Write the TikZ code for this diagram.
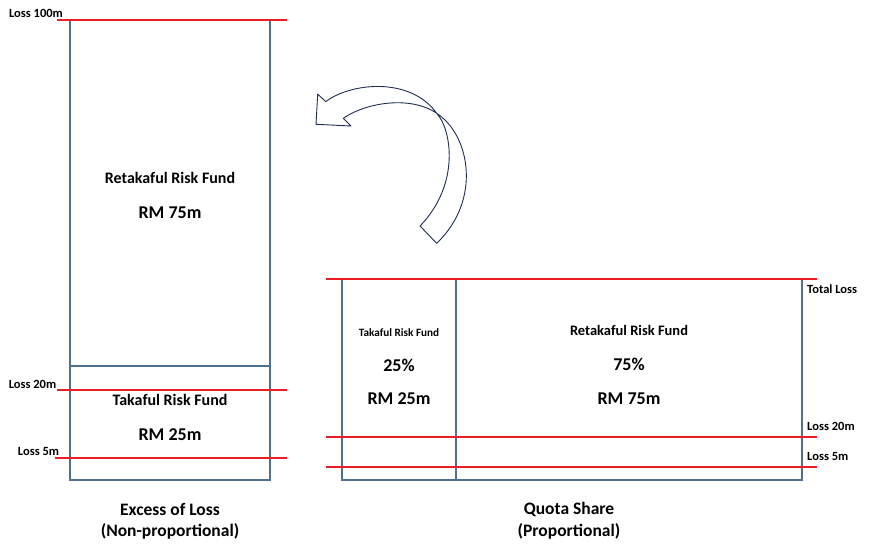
\documentclass[tikz,border=0pt]{standalone}
\usepackage{fontspec}
\setmainfont{Carlito}
\usetikzlibrary{positioning}
\definecolor{boxblue}{RGB}{78,112,146}
\definecolor{lossred}{RGB}{236,28,36}
\definecolor{arrownavy}{RGB}{31,45,82}

\begin{document}
\begin{tikzpicture}[x=1pt,y=-1pt,
    fundbox/.style={draw=boxblue,line width=2pt},
    lossline/.style={draw=lossred,line width=2pt},
    losslabel/.style={font=\fontsize{12.5}{14}\selectfont\bfseries,inner sep=0pt},
    fundname/.style={font=\fontsize{16}{18}\selectfont\bfseries,inner sep=0pt},
    fundsum/.style={font=\fontsize{18}{20}\selectfont\bfseries,inner sep=0pt},
    caption/.style={font=\fontsize{17.5}{20}\selectfont\bfseries,inner sep=0pt}]
    \useasboundingbox (0,0) rectangle (869,548);
    % excess of loss layers
    \draw[fundbox] (70,20) rectangle (270,480);
    \draw[fundbox] (70,366) -- (270,366);
    \draw[lossline] (57,20) -- (287,20);
    \draw[lossline] (57,390) -- (287,390);
    \draw[lossline] (55,458) -- (287,458);
    \node[losslabel] (xl100) at (36,13) {Loss 100m};
    \node[losslabel] (xl20) at (32.5,384) {Loss 20m};
    \node[losslabel] (xl5) at (38.5,451) {Loss 5m};
    \node[fundname] (xlret) at (170,178) {Retakaful Risk Fund};
    \node[fundsum] (xlretsum) at (170,213) {RM 75m};
    \node[fundname] (xltak) at (170,400) {Takaful Risk Fund};
    \node[fundsum] (xltaksum) at (170,435) {RM 25m};
    \node[caption] (xlcap) at (170,509) {Excess of Loss};
    \node[caption] (xlsub) at (170,531) {(Non-proportional)};
    % quota share split
    \draw[fundbox] (342,279) rectangle (802,480);
    \draw[fundbox,line width=2.6pt] (456,279) -- (456,480);
    \draw[lossline] (326,279) -- (817,279);
    \draw[lossline] (326,437) -- (817,437);
    \draw[lossline] (326,467) -- (817,467);
    \node[losslabel,anchor=west] (qstotal) at (807,289) {Total Loss};
    \node[losslabel,anchor=west] (qs20) at (807,426) {Loss 20m};
    \node[losslabel,anchor=west] (qs5) at (807,456) {Loss 5m};
    \node[losslabel,font=\fontsize{11.2}{13}\selectfont\bfseries] (qstak) at (399,333) {Takaful Risk Fund};
    \node[fundsum] (qstakpct) at (399,365) {25\%};
    \node[fundsum] (qstaksum) at (399,399) {RM 25m};
    \node[fundname,font=\fontsize{14.5}{17}\selectfont\bfseries] (qsret) at (629,330) {Retakaful Risk Fund};
    \node[fundsum] (qsretpct) at (629,364) {75\%};
    \node[fundsum] (qsretsum) at (629,399) {RM 75m};
    \node[caption] (qscap) at (569,509) {Quota Share};
    \node[caption] (qssub) at (569,531) {(Proportional)};
    % curved arrow
    \draw[arrownavy,line width=0.9pt,line join=round]
      (325.7,101.7) -- (317.7,94) -- (316,124.3) -- (351,126) -- (343.3,118.3)
      .. controls (365,103) and (410,95) .. (436.7,113.3)
      .. controls (452,130) and (460,185) .. (420,226)
      -- (436.7,243.3)
      .. controls (482,200) and (470,135) .. (436.7,113.3)
      .. controls (410,76) and (350,83) .. (325.7,101.7);
\end{tikzpicture}
\end{document}
